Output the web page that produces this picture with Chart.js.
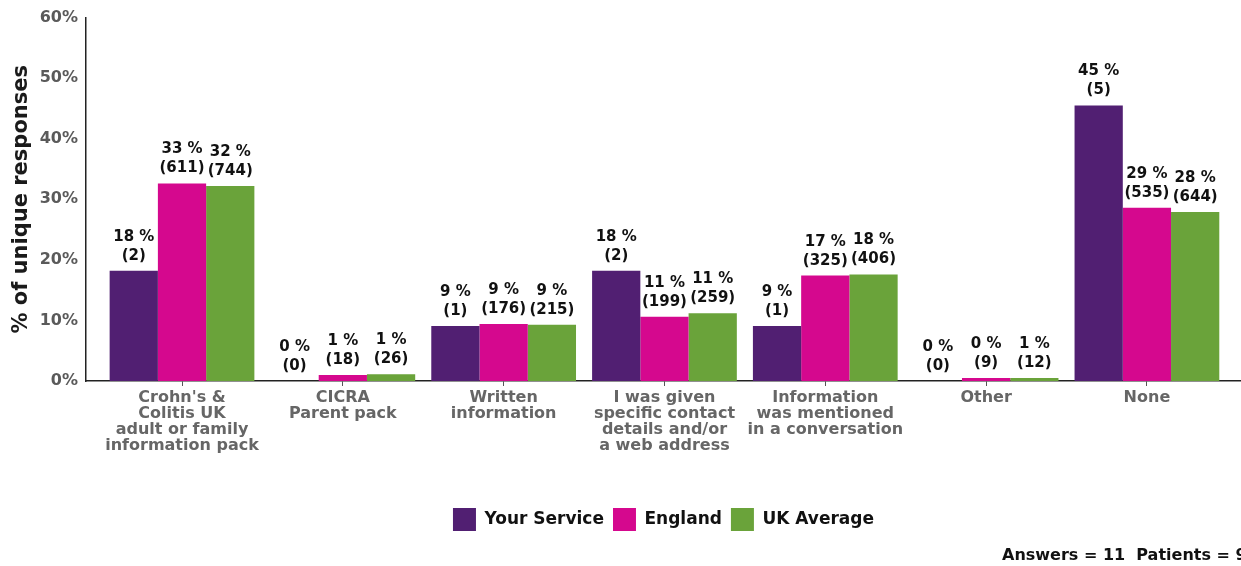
<!DOCTYPE html>
<html>
<head>
<meta charset="utf-8">
<script src="https://cdn.jsdelivr.net/npm/chart.js@4.4.0/dist/chart.umd.min.js"></script>
<style>
  html, body { margin: 0; padding: 0; background: #fff; overflow: hidden; }
  #wrap { position: relative; width: 1241px; height: 566px; }
  #footnote {
    position: absolute; left: 1002px; top: 545px; white-space: nowrap;
    font: bold 16px "DejaVu Sans", sans-serif; color: #111;
  }
</style>
</head>
<body>
<div id="wrap">
  <canvas id="chart" width="1241" height="566"></canvas>
  <div id="footnote">Answers = 11&nbsp; Patients = 9</div>
</div>
<script>
/******************************************************************
DATA
******************************************************************/
var categories = [
  ["Crohn's &", "Colitis UK", "adult or family", "information pack"],
  ["CICRA", "Parent pack"],
  ["Written", "information"],
  ["I was given", "specific contact", "details and/or", "a web address"],
  ["Information", "was mentioned", "in a conversation"],
  ["Other"],
  ["None"]
];

var seriesNames = ["Your Service", "England", "UK Average"];
var seriesColors = ["#511f72", "#d5088e", "#6aa33a"];

// bar heights (% of unique responses)
var yourService = [18.2, 0, 9.1, 18.2, 9.1, 0, 45.5];
var england     = [32.6, 1.0, 9.4, 10.6, 17.4, 0.5, 28.6];
var ukAverage   = [32.2, 1.1, 9.3, 11.2, 17.6, 0.5, 27.9];

// label text above bars
var yourServicePct = [18, 0, 9, 18, 9, 0, 45];
var englandPct     = [33, 1, 9, 11, 17, 0, 29];
var ukAveragePct   = [32, 1, 9, 11, 18, 1, 28];
var yourServiceN   = [2, 0, 1, 2, 1, 0, 5];
var englandN       = [611, 18, 176, 199, 325, 9, 535];
var ukAverageN     = [744, 26, 215, 259, 406, 12, 644];

var yTicks = [0, 10, 20, 30, 40, 50, 60];

/******************************************************************
CHART
******************************************************************/
var font = '"DejaVu Sans", sans-serif';
var values = [yourService, england, ukAverage];
var pcts = [yourServicePct, englandPct, ukAveragePct];
var counts = [yourServiceN, englandN, ukAverageN];

var datasets = seriesNames.map(function (name, s) {
  return {
    label: name,
    data: values[s].map(function (v, i) { return { x: i, y: v }; }),
    backgroundColor: seriesColors[s],
    borderWidth: 0,
    categoryPercentage: 0.9,
    barPercentage: 1.0,
    pctLabels: pcts[s],
    nLabels: counts[s]
  };
});

// value labels above each bar
var barLabels = {
  id: 'barLabels',
  afterDatasetsDraw: function (chart) {
    var ctx = chart.ctx;
    ctx.save();
    ctx.font = 'bold 15px ' + font;
    ctx.fillStyle = '#111';
    ctx.textAlign = 'center';
    ctx.textBaseline = 'middle';
    chart.data.datasets.forEach(function (ds, d) {
      chart.getDatasetMeta(d).data.forEach(function (bar, i) {
        ctx.fillText(ds.pctLabels[i] + ' %', bar.x, bar.y - 34);
        ctx.fillText('(' + ds.nLabels[i] + ')', bar.x, bar.y - 15);
      });
    });
    ctx.restore();
  }
};

new Chart(document.getElementById('chart'), {
  type: 'bar',
  data: { datasets: datasets },
  options: {
    responsive: false,
    animation: false,
    layout: { padding: { left: 5, top: 17, right: 0, bottom: 25 } },
    plugins: {
      tooltip: { enabled: false },
      legend: {
        position: 'bottom',
        fullSize: false,
        labels: {
          boxWidth: 23, boxHeight: 23, padding: 9,
          color: '#111',
          font: { family: font, size: 17, weight: 'bold' }
        }
      }
    },
    scales: {
      x: {
        type: 'linear',
        min: -0.597,
        max: 6.585,
        offset: false,
        afterBuildTicks: function (scale) {
          scale.ticks = categories.map(function (c, i) { return { value: i }; });
        },
        afterFit: function (scale) { scale.height = 118; },
        grid: { display: true, drawOnChartArea: false, drawTicks: true, tickLength: 5, color: '#555', offset: false },
        border: { display: true, color: '#222', width: 1.5 },
        ticks: {
          autoSkip: false,
          maxRotation: 0,
          padding: 4,
          color: '#666',
          font: { family: font, size: 16, weight: 'bold', lineHeight: 1.0 },
          callback: function (v) { return categories[v]; }
        }
      },
      y: {
        min: 0,
        max: 60,
        afterBuildTicks: function (scale) {
          scale.ticks = yTicks.map(function (t) { return { value: t }; });
        },
        afterFit: function (scale) { scale.width = 81; },
        grid: { display: false, drawTicks: false },
        border: { display: true, color: '#222', width: 1.5 },
        title: {
          display: true,
          text: '% of unique responses',
          color: '#1a1a1a',
          font: { family: font, size: 21, weight: 'bold' }
        },
        ticks: {
          padding: 8,
          color: '#5a5a5a',
          font: { family: font, size: 16, weight: 'bold' },
          callback: function (v) { return v + '%'; }
        }
      }
    }
  },
  plugins: [barLabels]
});
</script>
</body>
</html>
